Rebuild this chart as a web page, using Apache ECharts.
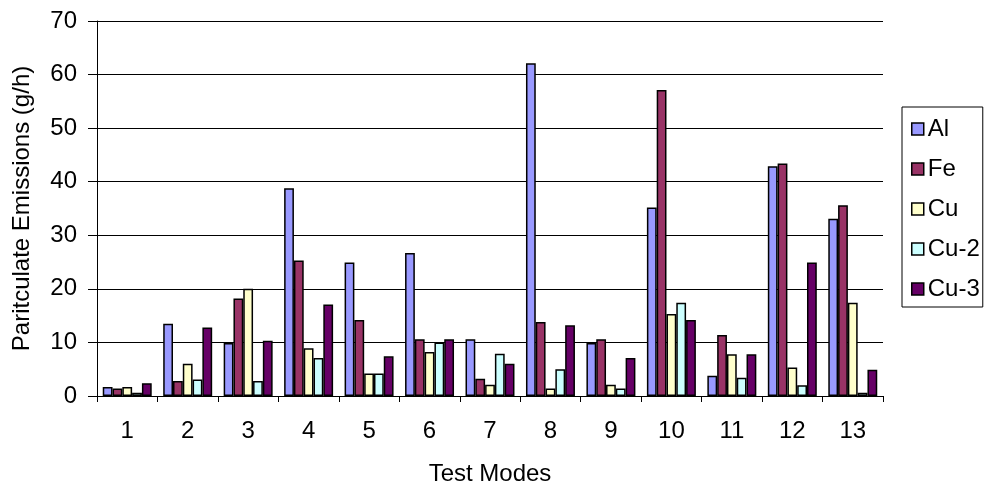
<!DOCTYPE html>
<html>
<head>
<meta charset="utf-8">
<script src="https://cdn.jsdelivr.net/npm/echarts@6/dist/echarts.min.js"></script>
<style>html,body{margin:0;padding:0;background:#fff;}#c{width:986px;height:486px;}</style>
</head>
<body>
<div id="c"></div>
<script>
const categories = ['1','2','3','4','5','6','7','8','9','10','11','12','13'];
const seriesNames = ['Al','Fe','Cu','Cu-2','Cu-3'];
const alValues  = [1.7, 13.5, 9.9, 38.8, 24.9, 26.7, 10.6, 62.1, 9.9, 35.2, 3.8, 42.9, 33.1];
const feValues  = [1.4, 2.8, 18.2, 25.3, 14.2, 10.6, 3.2, 13.8, 10.6, 57.1, 11.4, 43.4, 35.6];
const cuValues  = [1.7, 6.0, 20.0, 8.9, 4.2, 8.2, 2.1, 1.4, 2.1, 15.3, 7.8, 5.3, 17.4];
const cu2Values = [0.6, 3.1, 2.8, 7.1, 4.2, 10.0, 7.9, 5.0, 1.4, 17.4, 3.4, 2.0, 0.6];
const cu3Values = [2.4, 12.8, 10.3, 17.1, 7.4, 10.6, 6.0, 13.2, 7.1, 14.2, 7.8, 24.9, 4.9];
const yTicks = [0, 10, 20, 30, 40, 50, 60, 70];
const colors = ['#9999FF', '#993366', '#FFFFCC', '#CCFFFF', '#660066'];
const allValues = [alValues, feValues, cuValues, cu2Values, cu3Values];

const font = 'Liberation Sans, Arial, sans-serif';
const chart = echarts.init(document.getElementById('c'), null, {renderer: 'canvas'});
chart.setOption({
  animation: false,
  backgroundColor: '#fff',
  grid: {left: 97, top: 21, width: 786, height: 375, containLabel: false, outerBoundsMode: 'none'},
  legend: {
    orient: 'vertical',
    left: 902, top: 107,
    data: seriesNames,
    icon: 'rect',
    itemWidth: 12, itemHeight: 12,
    itemGap: 16,
    padding: [10, 3, 6, 9],
    borderColor: '#000', borderWidth: 1,
    textStyle: {fontFamily: font, fontSize: 24, color: '#000', padding: [0,0,0,-1]},
    itemStyle: {borderColor: '#000', borderWidth: 1.5}
  },
  xAxis: {
    type: 'category',
    data: categories,
    name: 'Test Modes',
    nameLocation: 'middle',
    nameGap: 66,
    nameTextStyle: {fontFamily: font, fontSize: 24, color: '#000'},
    axisLine: {lineStyle: {color: '#000', width: 1}},
    axisTick: {show: true, length: 6, lineStyle: {color: '#000'}},
    axisLabel: {fontFamily: font, fontSize: 24, color: '#000', margin: 23},
    splitLine: {show: false}
  },
  yAxis: {
    type: 'value',
    min: yTicks[0], max: yTicks[yTicks.length-1], interval: 10,
    name: 'Paritculate Emissions (g/h)',
    nameLocation: 'middle',
    nameGap: 63,
    nameTextStyle: {fontFamily: font, fontSize: 24, color: '#000'},
    axisLine: {show: true, lineStyle: {color: '#000', width: 1}},
    axisTick: {show: true, length: 9, lineStyle: {color: '#000'}},
    axisLabel: {fontFamily: font, fontSize: 24, color: '#000', margin: 20},
    splitLine: {show: true, lineStyle: {color: '#000', width: 1}}
  },
  series: seriesNames.map((n, i) => ({
    name: n,
    type: 'bar',
    data: allValues[i],
    barGap: '0%',
    barCategoryGap: '19%',
    itemStyle: {color: colors[i], borderColor: '#000', borderWidth: 1.5}
  }))
});
</script>
</body>
</html>
